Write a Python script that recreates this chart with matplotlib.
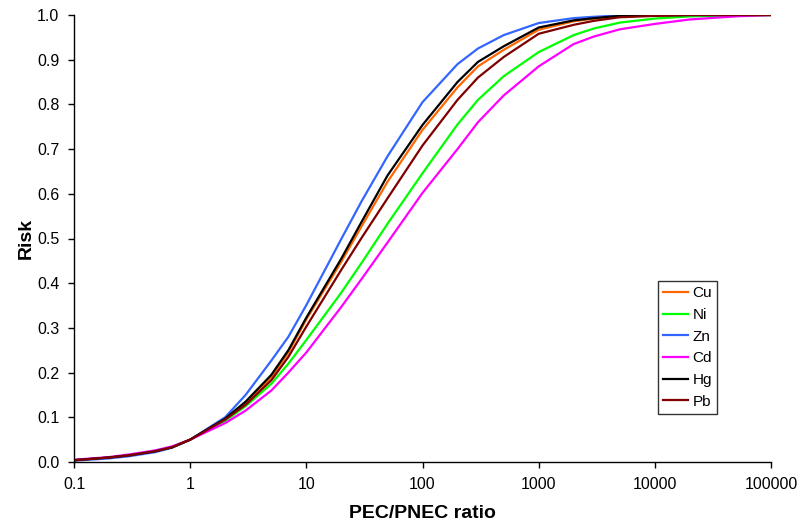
import numpy as np
import matplotlib
matplotlib.use("Agg")
import matplotlib.pyplot as plt
from matplotlib.ticker import FixedLocator, FixedFormatter, NullLocator

plt.rcParams['font.family'] = ['Liberation Sans', 'DejaVu Sans']

# PEC/PNEC ratio
ratio = [0.1, 0.2, 0.3, 0.5, 0.7, 1, 2, 3, 5, 7, 10, 20, 30, 50, 100, 200, 300,
         500, 1000, 2000, 3000, 5000, 10000, 20000, 50000, 100000]

# risk
cu = [0.004, 0.010, 0.015, 0.024, 0.033, 0.050, 0.095, 0.130, 0.190, 0.245,
      0.319, 0.448, 0.528, 0.627, 0.743, 0.838, 0.885, 0.922, 0.967, 0.986,
      0.992, 0.997, 0.999, 1.0, 1.0, 1.0]
ni = [0.004, 0.010, 0.015, 0.024, 0.033, 0.050, 0.092, 0.125, 0.175, 0.220,
      0.273, 0.379, 0.446, 0.533, 0.646, 0.755, 0.810, 0.863, 0.917, 0.955,
      0.970, 0.983, 0.992, 0.997, 0.999, 1.0]
zn = [0.003, 0.008, 0.013, 0.022, 0.032, 0.050, 0.100, 0.150, 0.227, 0.280,
      0.351, 0.499, 0.584, 0.684, 0.805, 0.890, 0.925, 0.955, 0.982, 0.993,
      0.996, 0.999, 1.0, 1.0, 1.0, 1.0]
cd = [0.005, 0.011, 0.017, 0.026, 0.035, 0.050, 0.087, 0.115, 0.160, 0.200,
      0.245, 0.347, 0.410, 0.491, 0.602, 0.700, 0.760, 0.820, 0.885, 0.935,
      0.952, 0.968, 0.980, 0.990, 0.997, 1.0]
hg = [0.004, 0.010, 0.015, 0.024, 0.033, 0.050, 0.097, 0.135, 0.195, 0.250,
      0.323, 0.455, 0.538, 0.641, 0.754, 0.850, 0.895, 0.930, 0.972, 0.988,
      0.993, 0.998, 0.999, 1.0, 1.0, 1.0]
pb = [0.004, 0.010, 0.015, 0.024, 0.033, 0.050, 0.095, 0.128, 0.183, 0.235,
      0.303, 0.430, 0.502, 0.590, 0.708, 0.810, 0.860, 0.906, 0.958, 0.978,
      0.987, 0.995, 0.998, 1.0, 1.0, 1.0]

names = ['Cu', 'Ni', 'Zn', 'Cd', 'Hg', 'Pb']
series = [cu, ni, zn, cd, hg, pb]
colors = ['#FF6600', '#00FF00', '#3366FF', '#FF00FF', '#000000', '#800000']

xticks = [0.1, 1, 10, 100, 1000, 10000, 100000]
xlabels = ['0.1', '1', '10', '100', '1000', '10000', '100000']
yticks = np.arange(0, 1.01, 0.1)

fig = plt.figure(figsize=(8.01, 5.27), dpi=100)
ax = fig.add_axes([74/801, 1-462/527, (771-74)/801, (462-15)/527])

for name, vals, c in zip(names, series, colors):
    ax.plot(ratio, vals, color=c, lw=1.6, label=name)

ax.set_xscale('log')
ax.set_xlim(0.1, 100000)
ax.set_ylim(0, 1.0)
ax.xaxis.set_major_locator(FixedLocator(xticks))
ax.xaxis.set_major_formatter(FixedFormatter(xlabels))
ax.xaxis.set_minor_locator(NullLocator())
ax.set_yticks(yticks)
ax.set_yticklabels(['%.1f' % v for v in yticks])

ax.spines['top'].set_visible(False)
ax.spines['right'].set_visible(False)
for s in ['left', 'bottom']:
    ax.spines[s].set_linewidth(1.0)
ax.tick_params(direction='out', length=4.5, width=1, labelsize=11.5, pad=6)

ax.set_xlabel('PEC/PNEC ratio', fontsize=14, fontweight='bold', labelpad=10)
ax.set_ylabel('Risk', fontsize=14, fontweight='bold', labelpad=2)

leg = ax.legend(loc='upper left', bbox_to_anchor=(658/801, 1-281/527),
                bbox_transform=fig.transFigure, frameon=True, fancybox=False,
                handlelength=1.6, handletextpad=0.3, borderpad=0.35,
                labelspacing=0.5, fontsize=11, borderaxespad=0)
leg.get_frame().set_edgecolor('black')
leg.get_frame().set_linewidth(1.0)

fig.savefig('out.png', dpi=100)
